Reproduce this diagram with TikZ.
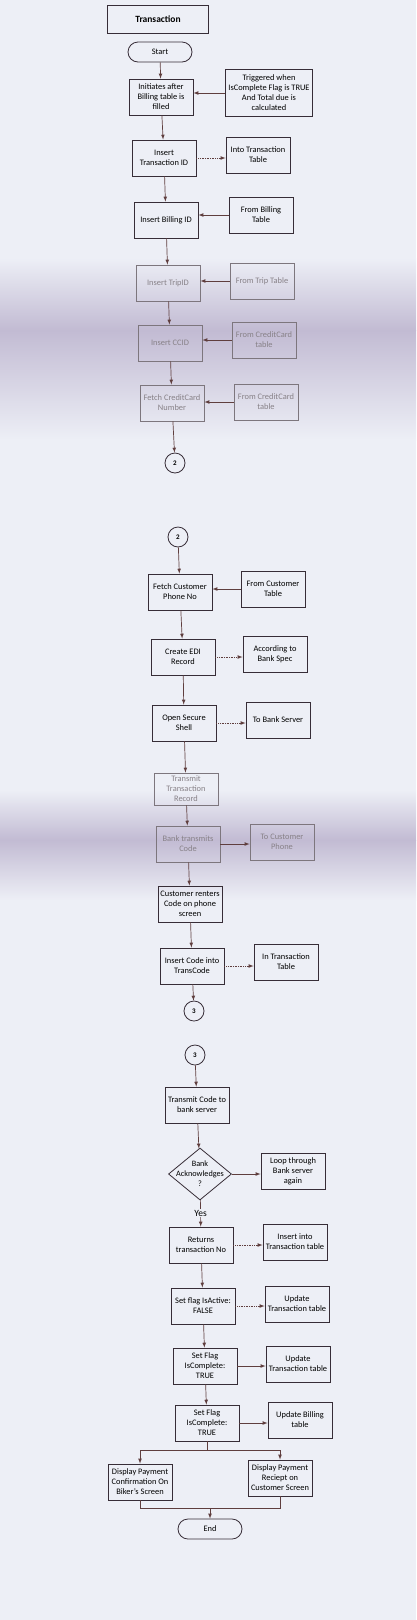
\documentclass[tikz,border=0pt]{standalone}
\usepackage{fontspec}
\setmainfont{Carlito}
\usetikzlibrary{shapes.geometric}

\definecolor{paper}{RGB}{237,239,246}
\definecolor{band}{RGB}{194,187,211}
\definecolor{ink}{RGB}{55,45,55}
\definecolor{wire}{RGB}{95,62,62}

\begin{document}
\begin{tikzpicture}[>=latex, x=1pt, y=-1pt,
  box/.style={draw=ink, line width=0.8pt, minimum width=64pt, minimum height=36pt,
    align=center, inner sep=1pt, font=\fontsize{8.4}{10}\selectfont},
  term/.style={box, rounded corners=10pt, minimum height=20pt},
  conn/.style={circle, draw=ink, line width=0.8pt, minimum size=20pt, inner sep=0pt,
    font=\bfseries\fontsize{7}{8}\selectfont},
  decide/.style={diamond, draw=ink, line width=0.8pt, minimum width=63pt,
    minimum height=52pt, inner sep=0pt},
  faded/.style={draw=ink!65, text=ink!60},
  flow/.style={->, draw=wire, line width=0.7pt},
  feed/.style={flow, densely dotted}]

  % paper and scanner tint
  \fill [paper] (0,0) rectangle (416,1620);
  \useasboundingbox (0,0) rectangle (416,1620);
  \shade [top color=paper, bottom color=band] (0,258) rectangle (416,330);
  \shade [top color=band, bottom color=paper] (0,330) rectangle (416,440);
  \shade [top color=paper, bottom color=band] (0,790) rectangle (416,840);
  \shade [top color=band, bottom color=paper] (0,840) rectangle (416,900);

  % page 1
  \node (title) at (158,19) [box, minimum width=101pt, minimum height=28pt,
    font=\bfseries\fontsize{9.5}{11}\selectfont] {Transaction};
  \node (start) at (160,52) [term] {Start};
  \node (init) at (161,97) [box] {Initiates after\\Billing table is\\filled};
  \node (trig) at (269,93) [box, minimum width=87pt, minimum height=47pt]
    {Triggered when\\IsComplete Flag is TRUE\\And Total due is\\calculated};
  \node (tid) at (164,158) [box] {Insert\\Transaction ID};
  \node (intt) at (258,155) [box] {Into Transaction\\Table};
  \node (bid) at (166,220) [box] {Insert Billing ID};
  \node (frbill) at (261,215) [box] {From Billing\\Table};
  \node (trip) at (168,283) [box, faded] {Insert TripID};
  \node (frtrip) at (262,281) [box, faded] {From Trip Table};
  \node (ccid) at (170,343) [box, faded] {Insert CCID};
  \node (frcc) at (264,340) [box, faded] {From CreditCard\\table};
  \node (ccnum) at (172,403) [box, faded] {Fetch CreditCard\\Number};
  \node (frccb) at (266,402) [box, faded] {From CreditCard\\table};
  \node (twoa) at (175,463) [conn] {2};

  % page 2
  \node (twob) at (178,537) [conn] {2};
  \node (phone) at (180,592) [box] {Fetch Customer\\Phone No};
  \node (frcust) at (273,589) [box] {From Customer\\Table};
  \node (edi) at (183,657) [box] {Create EDI\\Record};
  \node (spec) at (275,654) [box] {According to\\Bank Spec};
  \node (ssh) at (184,723) [box] {Open Secure\\Shell};
  \node (bank) at (278,720) [box] {To Bank Server};
  \node (trec) at (186,789) [box, faded, minimum height=32pt] {Transmit\\Transaction\\Record};
  \node (btc) at (188,844) [box, faded] {Bank transmits\\Code};
  \node (tophone) at (282,842) [box, faded] {To Customer\\Phone};
  \node (renter) at (190,904) [box] {Customer renters\\Code on phone\\screen};
  \node (ins) at (192,966) [box] {Insert Code into\\TransCode};
  \node (intab) at (286,962) [box] {In Transaction\\Table};
  \node (threea) at (194,1011) [conn] {3};

  % page 3
  \node (threeb) at (195,1055) [conn] {3};
  \node (tcode) at (197,1105) [box] {Transmit Code to\\bank server};
  \node (ack) at (200,1174) [decide] {};
  \node (acktext) at (ack) [align=center, font=\fontsize{8.2}{10}\selectfont]
    {Bank\\Acknowledges\\?};
  \node (loop) at (293,1171) [box] {Loop through\\Bank server\\again};
  \node (ret) at (201,1245) [box] {Returns\\transaction No};
  \node (instab) at (295,1242) [box] {Insert into\\Transaction table};
  \node (act) at (203,1306) [box] {Set flag IsActive:\\FALSE};
  \node (updt) at (297,1304) [box] {Update\\Transaction table};
  \node (cmpa) at (205,1366) [box] {Set Flag\\IsComplete:\\TRUE};
  \node (updtb) at (298,1364) [box] {Update\\Transaction table};
  \node (cmpb) at (207,1423) [box] {Set Flag\\IsComplete:\\TRUE};
  \node (updb) at (300,1420) [box] {Update Billing\\table};
  \node (bike) at (140,1482) [box] {Display Payment\\Confirmation On\\Biker's Screen};
  \node (cust) at (280,1478) [box] {Display Payment\\Reciept on\\Customer Screen};
  \node (end) at (210,1529) [term] {End};
  \coordinate (split) at (207,1450);
  \coordinate (merge) at (210,1508);

  % main flow
  \draw [flow] (start) -- (init);
  \draw [flow] (init) -- (tid);
  \draw [flow] (tid) -- (bid);
  \draw [flow] (bid) -- (trip);
  \draw [flow] (trip) -- (ccid);
  \draw [flow] (ccid) -- (ccnum);
  \draw [flow] (ccnum) -- (twoa);
  \draw [flow] (twob) -- (phone);
  \draw [flow] (phone) -- (edi);
  \draw [flow] (edi) -- (ssh);
  \draw [flow] (ssh) -- (trec);
  \draw [flow] (trec) -- (btc);
  \draw [flow] (btc) -- (renter);
  \draw [flow] (renter) -- (ins);
  \draw [flow] (ins) -- (threea);
  \draw [flow] (threeb) -- (tcode);
  \draw [flow] (tcode) -- (ack);
  \draw [flow] (ack) -- node (yes) [fill=paper, inner sep=1pt,
    font=\fontsize{9.5}{11}\selectfont] {Yes} (ret);
  \draw [flow] (ret) -- (act);
  \draw [flow] (act) -- (cmpa);
  \draw [flow] (cmpa) -- (cmpb);
  \draw [draw=wire, line width=0.7pt] (cmpb) -- (split);
  \draw [flow] (split) -| (bike);
  \draw [flow] (split) -| (cust);
  \draw [draw=wire, line width=0.7pt] (bike) |- (merge) -| (cust);
  \draw [flow] (merge) -- (end);

  % side tables
  \draw [flow] (trig) -- (trig -| init.east);
  \draw [feed] (tid) -- (tid -| intt.west);
  \draw [flow] (frbill) -- (frbill -| bid.east);
  \draw [flow] (frtrip) -- (frtrip -| trip.east);
  \draw [flow] (frcc) -- (frcc -| ccid.east);
  \draw [flow] (frccb) -- (frccb -| ccnum.east);
  \draw [flow] (frcust) -- (frcust -| phone.east);
  \draw [feed] (edi) -- (edi -| spec.west);
  \draw [feed] (ssh) -- (ssh -| bank.west);
  \draw [flow] (btc) -- (btc -| tophone.west);
  \draw [feed] (ins) -- (ins -| intab.west);
  \draw [flow] (ack) -- (ack -| loop.west);
  \draw [feed] (ret) -- (ret -| instab.west);
  \draw [feed] (act) -- (act -| updt.west);
  \draw [flow] (cmpa) -- (cmpa -| updtb.west);
  \draw [flow] (cmpb) -- (cmpb -| updb.west);
\end{tikzpicture}
\end{document}
